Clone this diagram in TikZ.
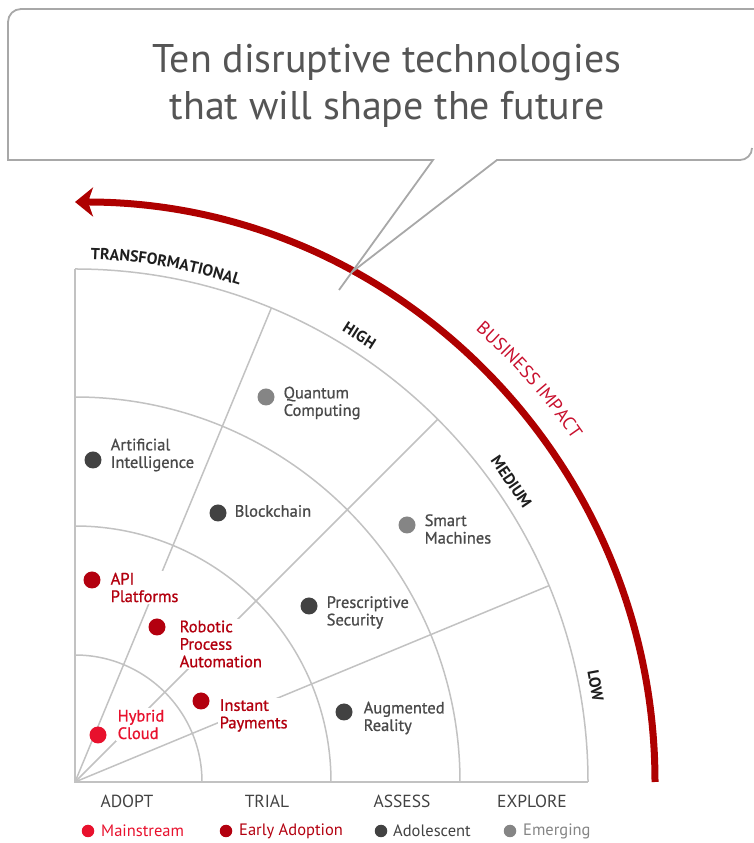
\documentclass[tikz,border=0pt]{standalone}
\usepackage{fontspec}
\setmainfont{PT Sans}
\newfontfamily\labfont{PT Sans}[FakeBold=0.9]
\usetikzlibrary{arrows.meta,decorations.text}
\definecolor{gridgray}{HTML}{C2C2C2}
\definecolor{boxgray}{HTML}{A8A8A8}
\definecolor{mainred}{HTML}{E8112D}
\definecolor{earlyred}{HTML}{B3000F}
\definecolor{adolgray}{HTML}{424242}
\definecolor{emerggray}{HTML}{858585}
\definecolor{labelgray}{HTML}{4A4A4A}
\definecolor{arcred}{HTML}{AE0000}
\definecolor{impactred}{HTML}{C8102E}
\definecolor{titlegray}{HTML}{555555}
\definecolor{darktext}{HTML}{1E1E1E}
\begin{document}
\begin{tikzpicture}[x=1pt,y=1pt,
  gridline/.style={draw=gridgray, line width=1.5pt},
  callout/.style={draw=boxgray, line width=1.8pt, line join=miter},
  dot/.style={circle, inner sep=0pt, minimum size=17pt},
  ldot/.style={circle, inner sep=0pt, minimum size=12.5pt},
  lab/.style={font=\labfont\fontsize{16.5}{17.5}\selectfont, align=left, anchor=west, inner sep=1.5pt, text=labelgray},
  redlab/.style={lab, text=earlyred},
  axislab/.style={font=\fontsize{17.5}{18}\selectfont, text=adolgray},
  leglab/.style={font=\fontsize{16.5}{18}\selectfont, anchor=west, inner sep=0pt},
  ringlab/.style={font=\fontsize{16}{18}\selectfont\bfseries, text=darktext, inner sep=0pt}
]
\useasboundingbox (-75,-61) rectangle (678,782);

% grid
\coordinate (O) at (0,0);
\coordinate (top) at (0,513);
\coordinate (right) at (513,0);
\draw[gridline] (top) -- (O) -- (right);
\foreach \r in {127,256,385,513}
  \draw[gridline] (\r,0) arc[start angle=0, end angle=90, radius=\r];
\foreach \a/\n in {22.5/ra,45/rb,67.5/rc} {
  \coordinate (\n) at (\a:513);
  \draw[gridline] (O) -- (\n);
}

% business impact arc
\draw[draw=arcred, line width=7pt, -{Stealth[length=18pt, width=29pt, inset=5pt]}]
  (580,0) arc[start angle=0, end angle=90, radius=580];
\path[decorate, decoration={text along path, text align=center,
  text={|\fontsize{18.5}{20}\selectfont\color{impactred}|BUSINESS IMPACT}}]
  (58:604) arc[start angle=58, end angle=25, radius=604];

% ring labels
\path[decorate, decoration={text along path, text align=center,
  text={|\fontsize{16}{18}\selectfont\bfseries\color{darktext}|TRANSFORMATIONAL}}]
  (92:523) arc[start angle=92, end angle=68, radius=523];
\node[ringlab, rotate=-32.5] (high) at (57.5:529.5) {HIGH};
\node[ringlab, rotate=-55.5] (medium) at (34.5:529.5) {MEDIUM};
\node[ringlab, rotate=-79.5] (low) at (10.5:529.5) {LOW};

% callout
\draw[callout] (690,773) -- (-54,773) arc[start angle=90, end angle=180, radius=13]
  -- (-67,622) -- (358,622) -- (264,492);
\draw[callout] (277,510) -- (422,622) -- (665,622) arc[start angle=270, end angle=360, radius=12];
\node[font=\fontsize{40}{47}\selectfont, text=titlegray, align=center] (title) at (312,696)
  {Ten disruptive technologies\\that will shape the future};

% technologies
\node[dot, fill=emerggray] (dq) at (191,385) {};
\node[lab] (tq) at (207,379) {Quantum\\Computing};
\node[dot, fill=adolgray] (dai) at (18,322) {};
\node[lab] (tai) at (34,327) {Artificial\\Intelligence};
\node[dot, fill=adolgray] (db) at (143,269) {};
\node[lab] (tb) at (158,271) {Blockchain};
\node[dot, fill=emerggray] (ds) at (332,257) {};
\node[lab] (ts) at (348,253) {Smart\\Machines};
\node[dot, fill=earlyred] (dapi) at (17,202) {};
\node[redlab, fill=white] (tapi) at (34,194.5) {API\\Platforms};
\node[dot, fill=earlyred] (drpa) at (82,155) {};
\node[redlab, fill=white] (trpa) at (103,138) {Robotic\\Process\\Automation};
\node[dot, fill=adolgray] (dps) at (234,176) {};
\node[lab] (tps) at (250,169.5) {Prescriptive\\Security};
\node[dot, fill=earlyred] (dip) at (126,81) {};
\node[redlab, fill=white] (tip) at (143,66.5) {Instant\\Payments};
\node[dot, fill=adolgray] (dar) at (269,70) {};
\node[lab] (tar) at (287,64) {Augmented\\Reality};
\node[dot, fill=mainred] (dhc) at (23,47) {};
\node[lab, text=mainred, fill=white] (thc) at (41,57.5) {Hybrid\\Cloud};

% axis labels
\node[axislab] (adopt) at (52,-19) {ADOPT};
\node[axislab] (trial) at (192,-19) {TRIAL};
\node[axislab] (assess) at (327,-19) {ASSESS};
\node[axislab] (explore) at (457,-19) {EXPLORE};

% legend
\node[ldot, fill=mainred] (lm) at (13,-49) {};
\node[leglab, text=mainred] (lmt) at (26,-49) {Mainstream};
\node[ldot, fill=earlyred] (le) at (151,-49) {};
\node[leglab, text=earlyred] (let) at (164,-49) {Early Adoption};
\node[ldot, fill=adolgray] (la) at (306,-49) {};
\node[leglab, text=adolgray] (lat) at (318,-49) {Adolescent};
\node[ldot, fill=emerggray] (lg) at (435,-49) {};
\node[leglab, text=emerggray] (lgt) at (448,-49) {Emerging};
\end{tikzpicture}
\end{document}
